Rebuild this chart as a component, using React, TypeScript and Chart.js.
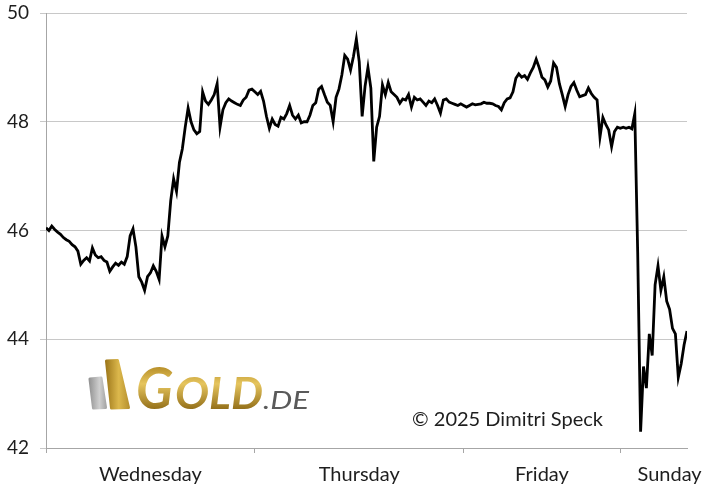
import React, { useEffect, useRef } from 'react';
import { Chart, registerables } from 'chart.js';

Chart.register(...registerables);

// Price series, one value every 20 minutes (slot index on the x axis)
const wednesday = [
  46.05, 46.0, 46.08, 46.02, 45.97, 45.93, 45.87, 45.83, 45.8, 45.74,
  45.7, 45.62, 45.38, 45.45, 45.5, 45.44, 45.68, 45.55, 45.5, 45.52,
  45.45, 45.42, 45.25, 45.33, 45.4, 45.36, 45.42, 45.38, 45.52, 45.9,
  46.03, 45.7, 45.15, 45.05, 44.9, 45.15, 45.22, 45.35, 45.25, 45.1,
  45.9, 45.7, 45.9, 46.55, 46.95, 46.72, 47.25, 47.5, 47.9, 48.25,
  48.0, 47.85, 47.78, 47.82, 48.55, 48.38, 48.32, 48.4, 48.5, 48.7,
  47.9, 48.22, 48.35, 48.42, 48.38, 48.35, 48.32, 48.3, 48.4, 48.45,
  48.58, 48.6,
];
const thursday = [
  48.55, 48.5, 48.56, 48.38, 48.1, 47.88, 48.05, 47.95, 47.92, 48.08,
  48.05, 48.15, 48.3, 48.12, 48.05, 48.12, 47.98, 48.0, 48.0, 48.12,
  48.3, 48.35, 48.6, 48.65, 48.5, 48.36, 48.3, 48.0, 48.45, 48.6,
  48.86, 49.22, 49.15, 48.95, 49.2, 49.52, 49.1, 48.1, 48.65, 49.0,
  48.62, 47.27, 47.9, 48.1, 48.68, 48.5, 48.72, 48.55, 48.5, 48.45,
  48.34, 48.42, 48.4, 48.5, 48.27, 48.45, 48.4, 48.42, 48.36, 48.3,
  48.38, 48.35, 48.42, 48.3, 48.16, 48.4, 48.42, 48.36, 48.34, 48.32,
  48.3, 48.33,
];
const friday = [
  48.3, 48.27, 48.3, 48.33, 48.31, 48.32, 48.33, 48.36, 48.34, 48.34,
  48.33, 48.3, 48.28, 48.22, 48.35, 48.42, 48.44, 48.55, 48.8, 48.88,
  48.82, 48.85, 48.78, 48.9, 49.0, 49.15, 49.0, 48.82, 48.77, 48.64,
  48.75, 49.08, 49.0, 48.7, 48.5, 48.28, 48.5, 48.65, 48.72, 48.58,
  48.46, 48.48, 48.5, 48.62, 48.52, 48.45, 48.4, 47.72, 48.08, 47.95,
  47.85, 47.54, 47.82, 47.9,
];
const sunday = [
  47.88, 47.9, 47.88, 47.9, 47.87, 48.15, 45.6, 42.3, 43.5, 43.1,
  44.1, 43.7, 45.0, 45.35, 44.9, 45.15, 44.7, 44.55, 44.2, 44.1,
  43.3, 43.55, 43.9, 44.15,
];

const dayLabels = ['Wednesday', 'Thursday', 'Friday', 'Sunday'];
const dayStartSlots = [0, 72, 144, 198];
const dayLabelSlots = [36, 108, 171, 215];
const lastSlot = 221;
const yMin = 42;
const yMax = 50;
const yStep = 2;
const copyright = '\u00A9 2025 Dimitri Speck';

const FONT = 'Lato, "Open Sans", sans-serif';

function fitText(
  ctx: CanvasRenderingContext2D,
  text: string,
  x: number,
  baseline: number,
  width: number,
  font: string,
  fill: (c: CanvasRenderingContext2D) => string | CanvasGradient
) {
  ctx.save();
  ctx.font = font;
  ctx.textBaseline = 'alphabetic';
  ctx.textAlign = 'left';
  const w = ctx.measureText(text).width || 1;
  ctx.translate(x, baseline);
  ctx.scale(width / w, 1);
  ctx.fillStyle = fill(ctx);
  ctx.fillText(text, 0, 0);
  ctx.restore();
}

function poly(ctx: CanvasRenderingContext2D, pts: number[][], fill: string | CanvasGradient) {
  ctx.save();
  ctx.beginPath();
  ctx.moveTo(pts[0][0], pts[0][1]);
  for (let i = 1; i < pts.length; i++) ctx.lineTo(pts[i][0], pts[i][1]);
  ctx.closePath();
  ctx.fillStyle = fill;
  ctx.strokeStyle = fill;
  ctx.lineJoin = 'round';
  ctx.lineWidth = 3;
  ctx.fill();
  ctx.stroke();
  ctx.restore();
}

const overlayPlugin = {
  id: 'overlay',
  afterDraw(chart: any) {
    const ctx: CanvasRenderingContext2D = chart.ctx;
    // grey bar of logo
    const gg = ctx.createLinearGradient(88, 0, 107, 0);
    gg.addColorStop(0, '#8c8c8c');
    gg.addColorStop(0.6, '#cfcfcf');
    gg.addColorStop(1, '#a0a0a0');
    poly(ctx, [[90, 379], [101, 378], [105.5, 407.5], [93.5, 408]], gg);
    // gold bar of logo
    const gb = ctx.createLinearGradient(105, 0, 130, 0);
    gb.addColorStop(0, '#9a7418');
    gb.addColorStop(0.55, '#dcb84c');
    gb.addColorStop(1, '#b48e2c');
    poly(ctx, [[106.5, 361], [117.5, 360.5], [128.5, 407.5], [111.5, 408]], gb);

    const goldFill = (c: CanvasRenderingContext2D) => {
      const g = c.createLinearGradient(0, -42, 0, 0);
      g.addColorStop(0, '#b8902a');
      g.addColorStop(0.4, '#e6c55e');
      g.addColorStop(1, '#94701a');
      return g;
    };
    fitText(ctx, 'G', 136, 409, 37, `italic bold 57px ${FONT}`, goldFill);
    fitText(ctx, 'OLD', 175, 409, 88, `italic bold 43px ${FONT}`, goldFill);
    fitText(ctx, '.DE', 263, 409, 46, `italic 26px ${FONT}`, () => '#5a5a5a');
    fitText(ctx, copyright, 412, 426, 191, `19px ${FONT}`, () => '#1e1e1e');
  },
};

export default function App() {
  const ref = useRef<HTMLCanvasElement>(null);

  useEffect(() => {
    const values = [...wednesday, ...thursday, ...friday, ...sunday];
    const points = values.map((v, i) => ({ x: i, y: v }));
    const chart = new Chart(ref.current as HTMLCanvasElement, {
      type: 'line',
      data: {
        datasets: [
          {
            data: points,
            borderColor: '#000000',
            borderWidth: 2.8,
            borderJoinStyle: 'miter',
            pointRadius: 0,
            tension: 0,
            fill: false,
          },
        ],
      },
      options: {
        responsive: false,
        animation: false,
        events: [],
        layout: { padding: { top: 13, right: 38, left: 0, bottom: 0 } },
        plugins: { legend: { display: false }, tooltip: { enabled: false } },
        scales: {
          x: {
            type: 'linear',
            min: 0,
            max: lastSlot,
            afterFit: (s: any) => {
              s.height = 52;
              s.paddingLeft = 0;
              s.paddingRight = 0;
            },
            afterBuildTicks: (s: any) => {
              const vals = [...dayStartSlots, ...dayLabelSlots].sort((a, b) => a - b);
              s.ticks = vals.map((v) => ({ value: v }));
            },
            border: { color: '#a6a6a6', width: 1 },
            grid: {
              drawOnChartArea: false,
              drawTicks: true,
              tickLength: 5,
              color: (c: any) =>
                c.tick && dayStartSlots.includes(c.tick.value) ? '#a6a6a6' : 'rgba(0,0,0,0)',
            },
            ticks: {
              autoSkip: false,
              maxRotation: 0,
              minRotation: 0,
              padding: 10,
              color: '#1e1e1e',
              font: { family: FONT, size: 20 },
              callback: (v: any) => {
                const idx = dayLabelSlots.indexOf(Number(v));
                return idx >= 0 ? dayLabels[idx] : '';
              },
            },
          },
          y: {
            min: yMin,
            max: yMax,
            afterFit: (s: any) => {
              s.width = 46;
              s.paddingTop = 0;
              s.paddingBottom = 0;
            },
            border: { color: '#a6a6a6', width: 1 },
            grid: { color: '#c8c8c8', lineWidth: 1, tickLength: 6 },
            ticks: {
              stepSize: yStep,
              padding: 11,
              color: '#1e1e1e',
              font: { family: FONT, size: 19 },
            },
          },
        },
      },
      plugins: [overlayPlugin],
    });
    return () => chart.destroy();
  }, []);

  return (
    <div style={{ position: 'fixed', left: 0, top: 0, width: 725, height: 500, background: '#fff' }}>
      <canvas ref={ref} width={725} height={500} style={{ display: 'block' }} />
    </div>
  );
}
